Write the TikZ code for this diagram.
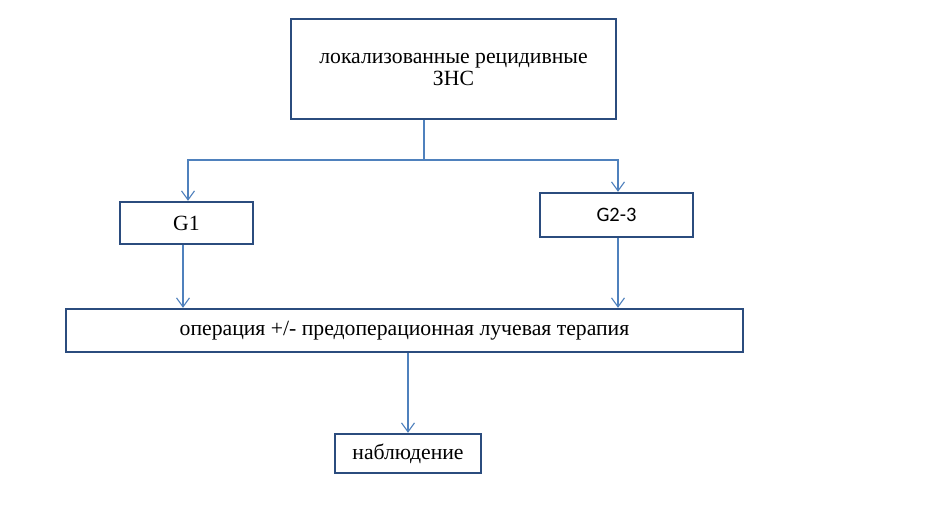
\documentclass[tikz,border=0pt]{standalone}
\usepackage{fontspec}
\setmainfont{Liberation Serif}
\newfontfamily\calfont{Carlito}
\usetikzlibrary{arrows.meta}
\definecolor{boxc}{HTML}{2B4C7E}
\definecolor{linec}{HTML}{4F81BD}
\begin{document}
\begin{tikzpicture}[x=1pt,y=1pt,
  box/.style={draw=boxc, line width=2.4pt, inner sep=0pt, align=center, font=\fontsize{21.7}{22}\selectfont},
  conn/.style={draw=linec, line width=1.1pt},
  arr/.style={conn, -{Straight Barb[length=9pt,width=13pt,line width=1.1pt]}}]
\useasboundingbox (0,0) rectangle (945,-517);
\fill[white] (0,0) rectangle (945,-517);
\node[box, minimum width=325, minimum height=100] (top) at (453.5,-69) {локализованные рецидивные\\ЗНС};
\node[box, minimum width=133, minimum height=42] (g1) at (186.5,-223) {G1};
\node[box, minimum width=153, minimum height=44, font=\calfont\fontsize{20.5}{22}\selectfont] (g23) at (616.5,-215) {G2-3};
\node[box, minimum width=677, minimum height=43] (wide) at (404.5,-330.5) {операция +/- предоперационная лучевая терапия};
\node[box, minimum width=146, minimum height=39] (nab) at (408,-453.5) {наблюдение};
\coordinate (j) at (424,-160);
\draw[conn] (top.south -| j) -- (j);
\draw[arr] (j) -| ([xshift=1.5pt]g1.north);
\draw[arr] (j) -| ([xshift=1.5pt]g23.north);
\draw[arr] ([xshift=-3.5pt]g1.south) -- ([xshift=-3.5pt]g1.south |- wide.north);
\draw[arr] ([xshift=1.5pt]g23.south) -- ([xshift=1.5pt]g23.south |- wide.north);
\draw[arr] (wide.south -| nab.north) -- (nab.north);
\end{tikzpicture}
\end{document}
